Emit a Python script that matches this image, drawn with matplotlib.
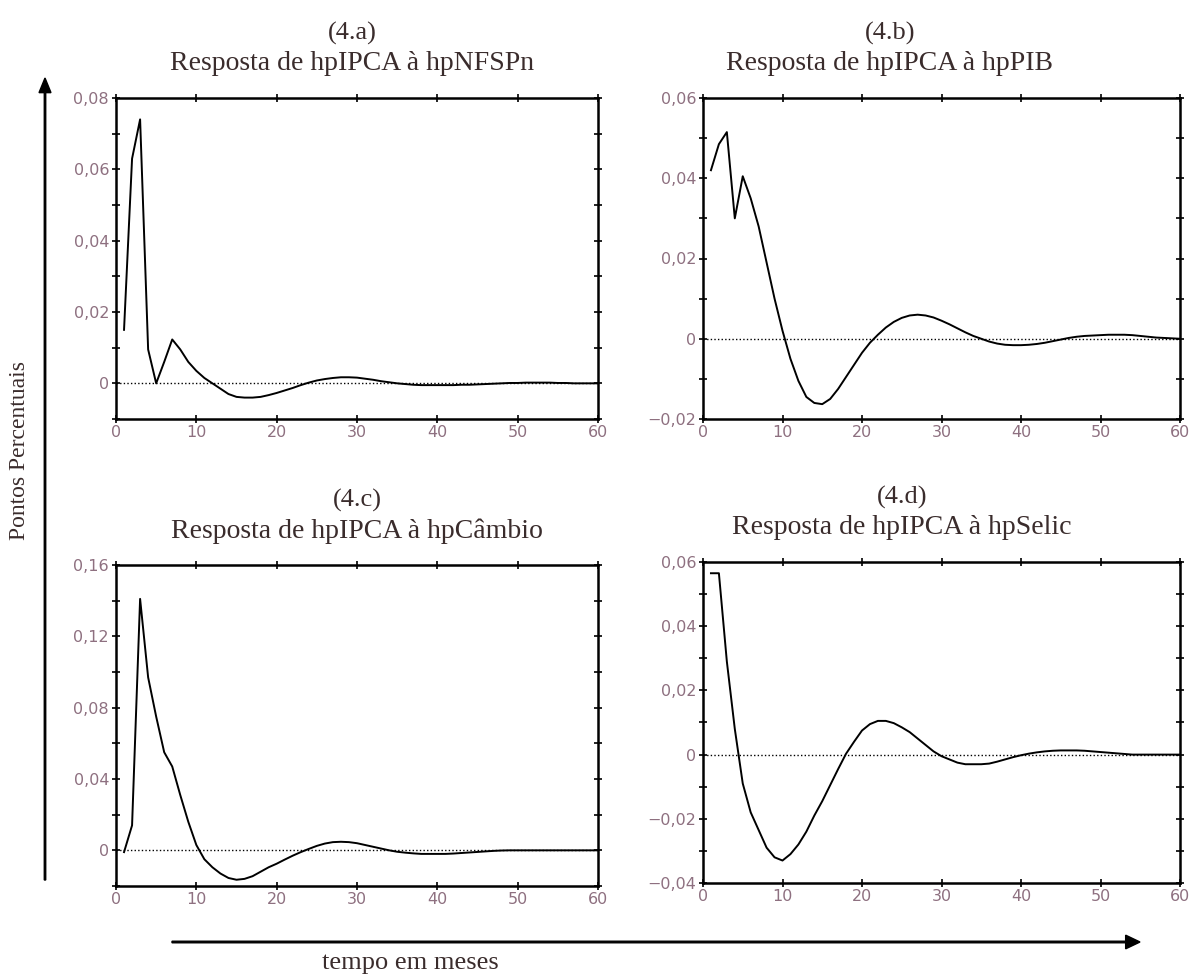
import numpy as np
import matplotlib
matplotlib.use("Agg")
import matplotlib.pyplot as plt
from matplotlib.ticker import MultipleLocator, FuncFormatter

# meses 1..60
months = np.arange(1, 61)

resp_nfspn = [0.015, 0.063, 0.074, 0.0095, 0.0, 0.006, 0.0123, 0.0095, 0.006, 0.0035,
              0.0015, 0.0, -0.0015, -0.003, -0.0038, -0.004, -0.004, -0.0038, -0.0033, -0.0027,
              -0.002, -0.0013, -0.0005, 0.0002, 0.0008, 0.0012, 0.0015, 0.0017, 0.0017, 0.0016,
              0.0013, 0.001, 0.0006, 0.0003, 0.0, -0.0002, -0.0004, -0.0005, -0.0005, -0.0005,
              -0.0005, -0.0005, -0.0004, -0.0004, -0.0003, -0.0002, -0.0001, 0.0, 0.0001, 0.0001,
              0.0002, 0.0002, 0.0002, 0.0002, 0.0001, 0.0001, 0.0, 0.0, 0.0, 0.0]

resp_pib = [0.042, 0.0485, 0.0515, 0.030, 0.0405, 0.035, 0.028, 0.019, 0.010, 0.002,
            -0.005, -0.0105, -0.0145, -0.016, -0.0163, -0.015, -0.0125, -0.0095, -0.0065, -0.0035,
            -0.001, 0.001, 0.0028, 0.0042, 0.0052, 0.0058, 0.006, 0.0058, 0.0053, 0.0045,
            0.0036, 0.0026, 0.0016, 0.0007, 0.0, -0.0007, -0.0012, -0.0015, -0.0016, -0.0016,
            -0.0015, -0.0013, -0.001, -0.0006, -0.0002, 0.0002, 0.0005, 0.0007, 0.0008, 0.0009,
            0.001, 0.001, 0.001, 0.0009, 0.0007, 0.0005, 0.0003, 0.0002, 0.0001, 0.0]

resp_cambio = [-0.001, 0.014, 0.141, 0.097, 0.075, 0.055, 0.047, 0.031, 0.016, 0.003,
               -0.005, -0.0095, -0.013, -0.0155, -0.0165, -0.016, -0.0145, -0.012, -0.0095, -0.0075,
               -0.0052, -0.003, -0.001, 0.0008, 0.0025, 0.0038, 0.0046, 0.0048, 0.0046, 0.004,
               0.003, 0.002, 0.001, 0.0, -0.0008, -0.0013, -0.0017, -0.002, -0.002, -0.002,
               -0.002, -0.0018, -0.0015, -0.0012, -0.0009, -0.0006, -0.0003, -0.0001, 0.0, 0.0,
               0.0, 0.0, 0.0, 0.0, 0.0, 0.0, 0.0, 0.0, 0.0, 0.0]

resp_selic = [0.0565, 0.0565, 0.029, 0.008, -0.009, -0.018, -0.0235, -0.029, -0.032, -0.033,
              -0.031, -0.028, -0.024, -0.019, -0.0145, -0.0095, -0.0045, 0.0003, 0.004, 0.0075,
              0.0095, 0.0105, 0.0105, 0.0098, 0.0085, 0.007, 0.005, 0.003, 0.001, -0.0005,
              -0.0015, -0.0025, -0.003, -0.003, -0.003, -0.0028, -0.0022, -0.0015, -0.0008, -0.0002,
              0.0003, 0.0007, 0.001, 0.0012, 0.0013, 0.0013, 0.0013, 0.0012, 0.001, 0.0008,
              0.0006, 0.0004, 0.0002, 0.0, 0.0, 0.0, 0.0, 0.0, 0.0, 0.0]

tags = ["(4.a)", "(4.b)", "(4.c)", "(4.d)"]
titles = ["Resposta de hpIPCA à hpNFSPn", "Resposta de hpIPCA à hpPIB",
          "Resposta de hpIPCA à hpCâmbio", "Resposta de hpIPCA à hpSelic"]
series = [resp_nfspn, resp_pib, resp_cambio, resp_selic]
ylims = [(-0.01, 0.08), (-0.02, 0.06), (-0.02, 0.16), (-0.04, 0.06)]
ymajor = [0.02, 0.02, 0.04, 0.02]
yminor = [0.01, 0.01, 0.02, 0.01]

W, H = 1195, 976
# caixas dos eixos em pixels: esquerda, topo, direita, base
boxes = [(116, 98, 598, 419), (703, 98, 1180, 419),
         (116, 565, 598, 886), (703, 562, 1180, 883)]
title_x = [352, 890, 357, 902]

serif = ["Liberation Serif", "DejaVu Serif"]
tick_color = "#8e7080"
text_color = "#3a2c2c"


def fmt(v, pos):
    if abs(v) < 1e-9:
        return "0"
    return f"{v:.2f}".replace(".", ",").replace("-", "\u2212")


fig = plt.figure(figsize=(W / 100, H / 100), dpi=100)

for i in range(4):
    l, t, r, b = boxes[i]
    ax = fig.add_axes([l / W, 1 - b / H, (r - l) / W, (b - t) / H])
    ax.plot(months, series[i], color="black", lw=1.4)
    ax.axhline(0, color="black", lw=1.0, ls=(0, (1, 1.6)))
    ax.set_xlim(0, 60)
    ax.set_ylim(*ylims[i])
    ax.xaxis.set_major_locator(MultipleLocator(10))
    ax.yaxis.set_major_locator(MultipleLocator(ymajor[i]))
    ax.yaxis.set_minor_locator(MultipleLocator(yminor[i]))
    ax.yaxis.set_major_formatter(FuncFormatter(fmt))
    ax.tick_params(which="both", direction="inout", top=True, right=True,
                   length=6, width=1.2, colors="black", labelcolor=tick_color,
                   labelsize=11.5)
    ax.tick_params(axis="x", pad=1)
    ax.tick_params(axis="y", pad=2)
    for s in ax.spines.values():
        s.set_linewidth(1.8)

    cx = title_x[i] / W
    fig.text(cx, 1 - (t - 65) / H, tags[i], ha="center", va="center",
             fontsize=19, family=serif, color=text_color)
    fig.text(cx, 1 - (t - 34) / H, titles[i], ha="center", va="center",
             fontsize=20, family=serif, color=text_color)

# setas dos eixos gerais
fig.patches.append(matplotlib.patches.FancyArrow(
    45 / W, 1 - 880 / H, 0, (880 - 78) / H, width=0.0012, head_width=0.01,
    head_length=0.015, length_includes_head=True, color="black",
    transform=fig.transFigure, figure=fig))
fig.patches.append(matplotlib.patches.FancyArrow(
    172 / W, 1 - 942 / H, (1140 - 172) / W, 0, width=0.0016, head_width=0.014,
    head_length=0.012, length_includes_head=True, color="black",
    transform=fig.transFigure, figure=fig))
fig.text(20 / W, 1 - 450 / H, "Pontos Percentuais", rotation=90, ha="center",
         va="center", fontsize=17, family=serif, color=text_color)
fig.text(410 / W, 1 - 963 / H, "tempo em meses", ha="center", va="center",
         fontsize=19, family=serif, color=text_color)

fig.savefig("out.png", dpi=100)
